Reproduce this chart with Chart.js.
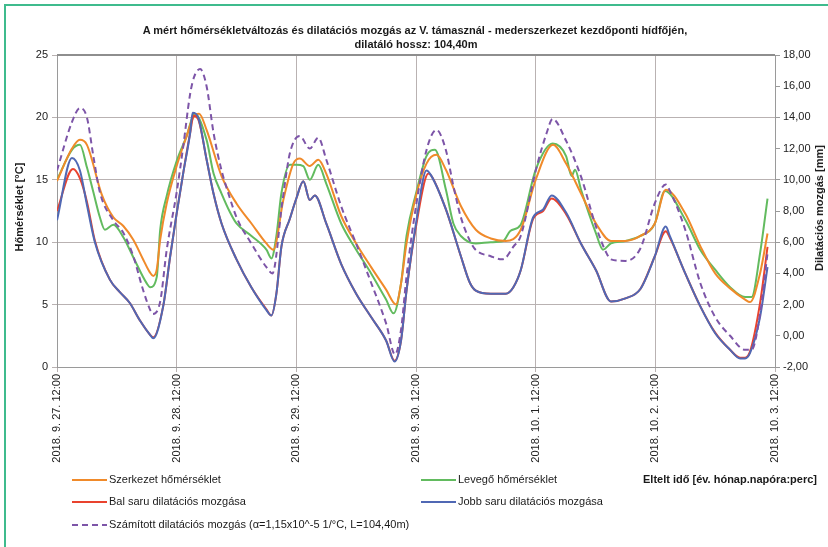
<!DOCTYPE html>
<html><head><meta charset="utf-8">
<script src="https://cdn.jsdelivr.net/npm/chart.js@4.4.1/dist/chart.umd.min.js"></script>
<style>
body{margin:0;background:#fff;font-family:"Liberation Sans",Arial,sans-serif;color:#1a1a1a;}
#wrap{position:relative;width:828px;height:547px;overflow:hidden;background:#fff;}
#c{position:absolute;left:0;top:0;}
.frame{position:absolute;background:#3fbb8d;}
.txt{position:absolute;white-space:nowrap;font-size:11px;line-height:13px;}
.b{font-weight:bold;}
.leg{position:absolute;height:2px;width:35px;}
.rot{position:absolute;white-space:nowrap;font-weight:bold;font-size:11px;transform-origin:center center;transform:translate(-50%,-50%) rotate(-90deg);}
</style></head>
<body><div id="wrap">
<canvas id="c" width="828" height="547"></canvas>
<div class="frame" style="left:4px;top:4px;width:830px;height:2px"></div>
<div class="frame" style="left:4px;top:4px;width:2px;height:560px"></div>
<div class="txt b" style="left:0;width:830px;top:24px;text-align:center">A mért hőmérsékletváltozás és dilatációs mozgás az V. támasznál - mederszerkezet kezdőponti hídfőjén,</div>
<div class="txt b" style="left:0;width:832px;top:38px;text-align:center">dilatáló hossz: 104,40m</div>
<div class="rot" style="left:19px;top:207px">Hőmérséklet [°C]</div>
<div class="rot" style="left:819px;top:208px">Dilatációs mozgás [mm]</div>
<div class="txt b" style="left:643px;top:473px">Eltelt idő [év. hónap.napóra:perc]</div>
<div id="legend"></div>
</div>
<script>
const dayLabels = ['2018. 9. 27. 12:00','2018. 9. 28. 12:00','2018. 9. 29. 12:00','2018. 9. 30. 12:00','2018. 10. 1. 12:00','2018. 10. 2. 12:00','2018. 10. 3. 12:00'];
const seriesNames = ['Szerkezet hőmérséklet','Levegő hőmérséklet','Bal saru dilatációs mozgása','Jobb saru dilatációs mozgása','Számított dilatációs mozgás (α=1,15x10^-5 1/°C, L=104,40m)'];

// hours elapsed since 2018.09.27 12:00
const szerkezetHours = [0,3,4.6,6,9,11.3,13.3,15.3,17.3,18.6,19.3,20,20.7,22,24,26,27.3,28.5,30,33,36,39,42,43.4,45.4,47.4,48.7,50.7,52.4,54,57,60,63,66,68,69,70.1,72,74.1,76.1,78,81,84,87,90,93,96,99.5,102.1,105.1,108.1,111.1,114,117,119.9,122.1,126,129,132,135,138,139,141,142.5];
const szerkezetTemp = [14.9,17.5,18.2,17.8,13.8,12.0,11.3,10.2,8.6,7.6,7.3,7.8,10.2,13.1,16.1,18.5,20.0,20.3,19.0,15.3,13.1,11.5,9.9,9.4,13.4,16.3,16.7,16.1,16.6,15.5,12.1,9.9,8.0,6.2,5.0,6.7,9.9,13.7,16.3,17.0,15.8,12.9,11.0,10.3,10.1,11.0,15.0,17.8,16.3,13.9,11.5,10.1,10.1,10.5,11.5,14.2,12.3,9.7,7.5,6.3,5.4,5.2,7.5,10.7];

const levegoHours = [0,3,4.6,6,7.3,8.6,9.6,11.3,13.3,15.3,18,18.7,20,20.7,22,24,26,27.6,30,31.4,33,34.7,36,39,42,43,44,45,46.7,48,49.4,50.7,52.4,54,57,60,63,66,67.5,69,70.1,72,74.1,75.8,78,79.5,81,84,87,89.5,90.9,93,96,99.4,102.1,103.2,103.9,105.1,108.1,109.5,111.1,114,117,119.9,121.9,126,129,132,135,138,139.3,141,142.5];
const levegoTemp = [15.0,17.4,17.8,16.0,14.0,12.0,11.0,11.4,10.4,8.8,6.7,6.4,7.2,11.0,13.7,16.5,18.5,20.3,18.2,15.5,13.9,12.4,11.5,10.5,9.4,8.7,10.5,13.9,16.2,16.2,16.1,15.0,16.2,14.7,11.5,9.4,7.5,5.4,4.3,6.7,10.5,13.9,16.9,17.4,14.2,11.5,10.5,9.9,10.0,10.1,10.9,11.4,15.8,17.9,16.9,15.3,15.8,14.2,10.7,9.4,9.9,10.1,10.5,11.5,14.1,11.8,9.4,7.8,6.4,5.6,5.6,9.1,13.5];

const balHours = [0,3.2,4.6,6,7.6,10.6,12.6,14.6,16.6,18.7,19.3,21.3,22.7,24,25.3,26.7,27.4,28.3,30,31.4,33,36,39,42,43,44,45,46.7,48,49.4,50.7,51.7,54,57,60,63,66,67.7,69,70.1,72,74.5,75.2,78,81,82.8,84,87,90,91.5,93,95.5,97.5,99.2,102.1,105.1,108.1,111.1,114,117,119.9,122.1,122.9,126,129,132,135,137,138,139,141,142.5];
const balMm = [8.0,10.7,10.1,8.6,6.1,3.6,2.8,2.1,1.0,0.05,-0.1,1.9,5.1,7.85,10.4,13.0,14.1,13.9,11.3,9.1,7.2,4.9,3.1,1.7,1.3,2.7,5.7,7.5,8.8,9.9,8.7,9.0,7.2,4.6,2.7,1.2,-0.3,-1.6,-0.3,2.9,7.0,10.4,10.2,8.1,5.1,3.4,2.9,2.7,2.7,3.1,4.2,7.5,8.0,8.8,7.8,5.9,4.2,2.2,2.4,3.0,5.1,6.7,6.3,4.0,1.9,0.2,-0.9,-1.4,-1.4,-1.0,2.1,5.7];

const jobbHours = [0,3,4.6,6,7.6,10.6,12.6,14.6,16.6,18.7,19.3,21.3,22.7,24,25.3,26.7,27.2,28.3,30,31.4,33,36,39,42,43,44,45,46.7,48,49.4,50.7,51.7,54,57,60,63,66,67.7,69,70.1,72,74.1,75,78,81,82.8,84,87,90,91.5,93,95.5,97.5,99.2,102.1,105.1,108.1,111.1,114,117,119.9,122.1,122.9,126,129,132,135,137,138,139,141,142.5];
const jobbMm = [7.4,11.4,10.6,8.4,6.0,3.6,2.8,2.1,1.0,0.05,-0.16,1.9,5.1,7.85,10.4,13.0,14.3,14.0,11.3,9.1,7.2,4.9,3.1,1.65,1.3,2.7,5.7,7.5,8.8,9.9,8.7,9.0,7.2,4.6,2.7,1.2,-0.3,-1.65,-0.3,2.9,7.2,10.6,10.3,8.1,5.1,3.4,2.9,2.7,2.7,3.1,4.2,7.6,8.1,9.0,7.9,5.9,4.2,2.2,2.4,3.0,5.1,7.0,6.4,4.0,1.9,0.16,-0.9,-1.45,-1.45,-1.1,1.2,4.4];

const szamitottHours = [0,3,4.6,6,7.3,8.6,11.3,13.3,15.3,17.3,18.7,19.2,20.7,22,24,25.3,26.7,27.5,28.7,30,31.4,33,34.4,36,39,42,43.2,45.2,46.7,48.7,50.7,52.4,54,57,60,63,66,67.8,69,70.1,72,74.1,76.1,78,79.5,81,82.8,84,87,89.2,90,91.5,93,96.1,98.2,99.4,102.1,105.1,108.1,110.2,111.1,114,117,119.9,122.1,122.9,126,129,132,135,138,139.3,141,142.5];
const szamitottMm = [10.6,13.7,14.6,14.0,11.5,9.2,7.4,6.6,5.1,2.9,1.65,1.4,2.2,5.5,9.2,12.1,15.5,16.6,17.1,16.0,13.0,10.6,9.1,7.6,5.9,4.4,4.0,8.6,11.7,12.8,12.0,12.7,11.3,8.3,5.9,3.4,0.8,-1.2,0.4,3.8,8.3,11.9,13.2,11.9,9.6,7.6,6.1,5.5,5.1,4.9,5.0,5.7,6.4,10.7,13.0,13.9,12.5,10.2,7.0,5.3,4.9,4.8,5.6,8.5,9.7,9.3,6.8,3.4,1.2,0.0,-0.9,-0.9,1.4,5.3];

const colors = ['#f08a2a','#62bb5f','#e9432e','#5068b4','#7d55a8'];
const dashes = [[],[],[],[],[6,4]];

function pts(h, v){ return h.map((x,i)=>({x:x, y:v[i]})); }
const seriesData = [
  {h:szerkezetHours, v:szerkezetTemp, axis:'yT'},
  {h:levegoHours, v:levegoTemp, axis:'yT'},
  {h:balHours, v:balMm, axis:'yM'},
  {h:jobbHours, v:jobbMm, axis:'yM'},
  {h:szamitottHours, v:szamitottMm, axis:'yM'}
];
const drawOrder = [1,0,2,3,4];
const datasets = drawOrder.map(i=>({
  label: seriesNames[i],
  data: pts(seriesData[i].h, seriesData[i].v),
  yAxisID: seriesData[i].axis,
  borderColor: colors[i],
  borderWidth: 2,
  borderDash: dashes[i],
  pointRadius: 0,
  fill: false,
  cubicInterpolationMode: 'monotone',
  order: 4 - drawOrder.indexOf(i)
}));

const topLine = {id:'topLine', beforeDatasetsDraw(c){
  const a=c.chartArea, ctx=c.ctx; ctx.save();
  ctx.strokeStyle='#8e8e8e'; ctx.lineWidth=2;
  ctx.beginPath(); ctx.moveTo(a.left, a.top); ctx.lineTo(a.right, a.top); ctx.stroke();
  ctx.restore();
}};

const tickFont = {family:'"Liberation Sans", Arial, sans-serif', size:11};
new Chart(document.getElementById('c'), {
  type:'line',
  data:{datasets},
  options:{
    responsive:false, animation:false, devicePixelRatio:1,
    layout:{padding:{top:55,left:0,right:0,bottom:0}},
    plugins:{legend:{display:false}, title:{display:false}, tooltip:{enabled:false}},
    scales:{
      x:{type:'linear', min:0, max:144, position:'bottom',
        afterFit(s){s.height=180;},
        afterBuildTicks(s){ s.ticks = dayLabels.map((_,i)=>({value:i*24})); },
        ticks:{stepSize:24, autoSkip:false, maxRotation:90, minRotation:90, padding:2, color:'#222',
          font:tickFont,
          callback:(v)=>dayLabels[Math.round(v/24)]},
        grid:{color:'#b9b2b2', lineWidth:1, tickLength:5},
        border:{color:'#9a9a9a', width:1}},
      yT:{type:'linear', position:'left', min:0, max:25,
        afterFit(s){s.width=57;},
        ticks:{stepSize:5, padding:4, color:'#222', font:tickFont},
        grid:{color:'#b9b2b2', lineWidth:1, tickLength:5},
        border:{color:'#9a9a9a', width:1}},
      yM:{type:'linear', position:'right', min:-2, max:18,
        afterFit(s){s.width=53;},
        ticks:{stepSize:2, padding:3, color:'#222', font:tickFont,
          callback:(v)=>v.toFixed(2).replace('.',',')},
        grid:{drawOnChartArea:false, color:'#9a9a9a', tickLength:5},
        border:{color:'#9a9a9a', width:1}}
    }
  },
  plugins:[topLine]
});

// HTML legend built from series names/colors
const legPos = [[72,480],[421,480],[72,502],[421,502],[72,525]];
const lg = document.getElementById('legend');
seriesNames.forEach((name,i)=>{
  const [x,y] = legPos[i];
  const line = document.createElement('div');
  line.className='leg';
  line.style.left=x+'px'; line.style.top=(y-1)+'px';
  if(dashes[i].length){
    line.style.background='repeating-linear-gradient(90deg,'+colors[i]+' 0 6px,transparent 6px 10px)';
  } else line.style.background=colors[i];
  lg.appendChild(line);
  const t=document.createElement('div');
  t.className='txt'; t.textContent=name;
  t.style.left=(x+37)+'px'; t.style.top=(y-7)+'px';
  lg.appendChild(t);
});
</script>
</body></html>
